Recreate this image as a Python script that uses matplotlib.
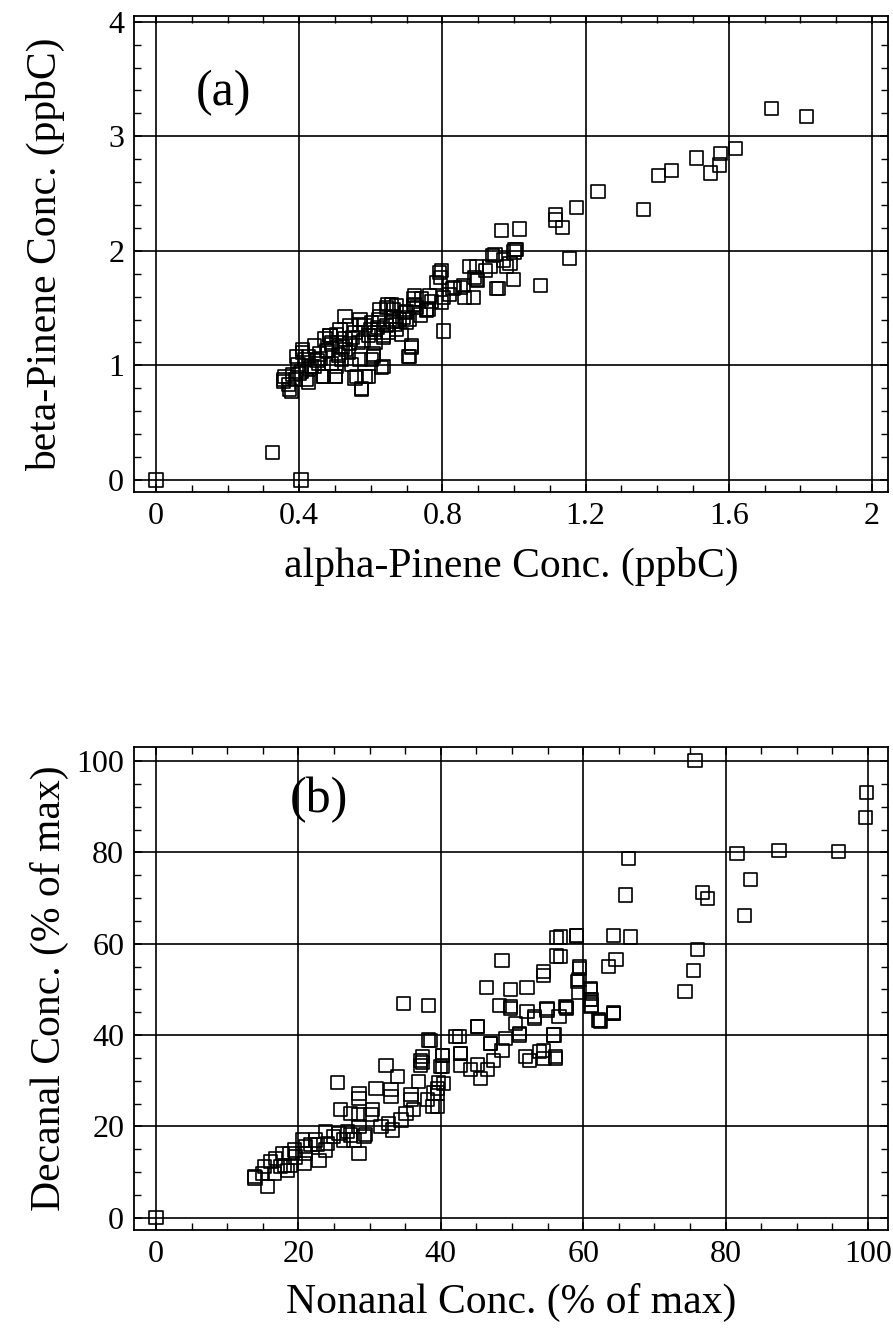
import matplotlib
matplotlib.use("Agg")
import matplotlib.pyplot as plt
from matplotlib.ticker import MultipleLocator, FixedLocator

plt.rcParams['font.family'] = ['Liberation Serif', 'DejaVu Serif']

# ---------------- Panel (a) data: alpha-Pinene vs beta-Pinene (ppbC) ----------------
alpha_pinene = [
    0.0, 0.326, 0.405, 0.528,
    1.72, 1.818, 1.619, 1.578, 1.575, 1.55, 1.51, 1.441, 1.404, 1.361, 1.235, 1.175,
    1.115, 1.115, 1.136, 1.155,
    0.966, 1.015, 1.074, 1.007, 1.0, 0.947, 0.952, 0.998, 0.989, 0.98, 0.933, 0.896,
    0.891, 0.898, 0.887, 0.863, 0.85, 0.83, 0.798, 0.795, 0.784, 0.803, 0.798, 0.765,
    0.742, 0.723, 0.719, 0.756, 0.70,
    0.803, 0.793, 1.003, 0.956, 0.895, 0.877, 0.94, 0.835, 0.719, 0.756, 0.658, 0.648,
    0.70, 0.714, 0.705, 0.635, 0.607, 0.635, 0.593, 0.575, 0.56, 0.50, 0.467, 0.425,
    0.379, 0.356, 0.41, 0.444, 0.486, 0.514, 0.57, 0.626, 0.663, 0.69, 0.728,
    0.356, 0.37, 0.374, 0.36, 0.383, 0.407, 0.421, 0.416, 0.41, 0.435, 0.453, 0.458,
    0.477, 0.467, 0.50, 0.486, 0.49, 0.505, 0.514, 0.528, 0.537, 0.519, 0.556, 0.565,
    0.584, 0.593, 0.602, 0.621, 0.612, 0.607, 0.635, 0.644, 0.658, 0.672, 0.63, 0.556,
    0.584, 0.575, 0.696, 0.709, 0.714, 0.709, 0.686, 0.425, 0.444, 0.397, 0.393, 0.542,
    0.570, 0.626, 0.644, 0.672, 0.723, 0.761, 0.602, 0.491, 0.472, 0.547, 0.57, 0.505,
    0.46, 0.48, 0.52, 0.54, 0.55, 0.58, 0.60, 0.62, 0.66, 0.68, 0.45, 0.43, 0.39, 0.40,
    0.51, 0.53, 0.49, 0.61, 0.65, 0.67, 0.74, 0.77, 0.82, 0.86, 0.92, 0.97,
]
beta_pinene = [
    0.0, 0.24, 0.0, 1.43,
    3.245, 3.17, 2.895, 2.85, 2.75, 2.68, 2.81, 2.70, 2.655, 2.36, 2.52, 2.38,
    2.315, 2.27, 2.205, 1.93,
    2.18, 2.19, 1.70, 2.01, 1.99, 1.97, 1.67, 1.75, 1.89, 1.86, 1.86, 1.86,
    1.77, 1.74, 1.59, 1.59, 1.68, 1.67, 1.83, 1.77, 1.725, 1.59, 1.55, 1.61,
    1.58, 1.61, 1.52, 1.49, 1.47,
    1.30, 1.81, 2.01, 1.67, 1.75, 1.86, 1.96, 1.68, 1.58, 1.48, 1.535, 1.53,
    1.375, 1.155, 1.08, 1.24, 1.08, 0.99, 0.905, 0.79, 0.905, 0.905, 0.905, 0.85,
    0.775, 0.86, 1.11, 1.17, 1.26, 1.315, 1.36, 1.43, 1.49, 1.42, 1.505,
    0.877, 0.83, 0.79, 0.90, 0.92, 0.95, 0.877, 1.05, 1.14, 0.99, 1.02, 1.10,
    1.125, 0.905, 0.905, 1.26, 1.20, 1.27, 1.17, 1.23, 1.11, 1.05, 1.29, 1.20,
    1.345, 1.26, 1.375, 1.40, 1.20, 1.10, 1.26, 1.345, 1.43, 1.315, 0.98, 0.89,
    0.905, 0.80, 1.46, 1.40, 1.17, 1.08, 1.27, 1.08, 0.99, 1.01, 1.08, 1.345,
    1.40, 1.49, 1.505, 1.52, 1.535, 1.49, 1.05, 1.02, 1.23, 1.01, 1.05, 0.99,
    1.06, 1.13, 1.16, 1.19, 1.24, 1.22, 1.31, 1.33, 1.38, 1.40, 1.04, 0.97, 0.88, 0.93,
    1.09, 1.14, 1.18, 1.29, 1.29, 1.36, 1.44, 1.56, 1.62, 1.70, 1.83, 1.92,
]

# ---------------- Panel (b) data: Nonanal vs Decanal (% of max) ----------------
nonanal = [
    0.0,
    75.7, 99.8, 99.6, 81.6, 87.5, 95.8, 83.5, 82.7, 66.3, 65.9, 76.8, 77.5, 59.1, 56.8,
    64.2, 66.6, 76.1, 75.5, 74.3, 64.6, 63.5, 59.5, 59.2, 61.0, 61.2, 61.1, 64.2, 62.3,
    57.7, 56.8,
    48.6, 56.2, 56.3, 59.1, 59.5, 54.4, 54.4, 34.8, 38.3, 46.4, 49.8, 52.1, 48.2, 49.8,
    52.1, 54.9, 57.7, 59.4, 59.4, 61.0, 61.0, 62.2, 64.3, 56.6, 53.1, 50.5, 45.1, 42.6,
    38.5, 51.0, 55.9, 47.0, 48.6, 42.8, 52.4, 54.4, 56.1, 37.4, 37.4, 40.2, 40.2, 42.8,
    25.5, 28.5, 28.5, 25.9, 27.3, 30.9, 32.3, 33.9, 37.2, 37.2, 38.3, 36.9, 39.5, 35.8,
    33.0, 33.0, 30.4, 30.2, 28.5, 28.5, 27.8, 28.5, 26.9, 25.7, 23.8, 24.1, 22.4, 22.7,
    22.9, 21.0, 21.0, 20.6, 19.4, 19.6, 18.7, 17.8, 16.8, 17.5, 16.1, 15.2, 15.0, 13.8,
    13.9, 15.7, 16.6, 18.5, 18.0, 18.9, 20.8, 21.7, 23.8, 24.9, 26.3, 27.3, 29.2, 29.4,
    31.6, 32.7, 34.4, 35.1, 36.2, 33.2, 35.8, 38.1, 39.0, 39.5, 39.7,
    38.8, 39.5, 40.4, 40.0, 40.2, 42.1, 42.8, 45.1, 44.2, 45.1, 45.6, 46.5, 47.4, 49.1,
    47.0, 51.0, 51.9, 53.8, 54.5, 56.1, 55.8, 53.1, 54.9, 57.5, 61.2, 62.4, 64.3, 49.8,
]
decanal = [
    0.0,
    100.1, 93.1, 87.7, 79.8, 80.5, 80.2, 74.1, 66.2, 78.6, 70.7, 71.2, 70.0, 61.9, 61.5,
    61.9, 61.5, 58.8, 54.1, 49.5, 56.5, 55.1, 54.6, 51.7, 50.0, 47.8, 46.2, 44.9, 43.2,
    45.9, 57.2,
    56.4, 57.3, 61.4, 61.7, 54.9, 53.9, 53.1, 47.0, 46.4, 50.5, 49.9, 50.5, 46.4, 45.9,
    45.1, 45.9, 46.1, 52.1, 49.3, 50.2, 47.7, 43.3, 44.8, 44.0, 44.0, 42.6, 41.8, 39.6,
    38.8, 40.0, 40.0, 38.2, 36.7, 36.0, 34.5, 36.7, 34.9, 35.3, 34.0, 35.6, 33.2, 33.3,
    29.6, 27.2, 26.1, 23.6, 22.9, 28.3, 33.4, 30.9, 34.5, 33.4, 38.9, 29.8, 24.3, 26.9,
    28.0, 26.5, 23.6, 22.6, 22.6, 19.9, 17.0, 14.1, 18.8, 18.5, 18.8, 16.3, 17.0, 16.0,
    12.6, 15.6, 14.1, 17.0, 14.8, 13.3, 14.1, 14.1, 13.0, 11.2, 12.3, 11.2, 9.7, 9.0,
    8.7, 6.8, 9.7, 10.4, 11.5, 11.5, 11.9, 16.0, 14.8, 17.7, 17.0, 18.1, 17.7, 18.3,
    19.9, 20.7, 21.4, 22.9, 23.6, 19.2, 25.8, 25.8, 27.3, 28.3, 29.6,
    24.3, 27.3, 29.4, 33.1, 35.6, 39.6, 36.0, 41.8, 32.4, 33.5, 30.5, 32.4, 34.5, 39.3,
    38.2, 40.4, 35.3, 36.4, 34.9, 35.3, 40.0, 43.7, 45.5, 46.2, 46.6, 43.0, 44.8, 46.2,
]

a_xticks = [0, 0.4, 0.8, 1.2, 1.6, 2.0]
a_xticklabels = ["0", "0.4", "0.8", "1.2", "1.6", "2"]
a_yticks = [0, 1, 2, 3, 4]
b_ticks = [0, 20, 40, 60, 80, 100]

fig = plt.figure(figsize=(8.93, 13.34), dpi=100)
ax1 = fig.add_axes([0.150, 0.6312, 0.8444, 0.3568])
ax2 = fig.add_axes([0.150, 0.0780, 0.8444, 0.3620])

def style(ax):
    for s in ax.spines.values():
        s.set_linewidth(1.3)
        s.set_color('black')
    ax.tick_params(which='both', direction='in', top=True, right=True,
                   colors='black', labelsize=23)
    ax.tick_params(which='major', length=6, width=1.1, pad=7)
    ax.tick_params(which='minor', length=5, width=1.0)
    ax.grid(True, which='major', color='black', linewidth=1.2)
    ax.set_axisbelow(True)

# Panel (a)
ax1.scatter(alpha_pinene, beta_pinene, marker='s', s=90, facecolors='none',
            edgecolors='black', linewidths=1.2, zorder=3)
ax1.set_xlim(-0.0615, 2.045)
ax1.set_ylim(-0.105, 4.05)
ax1.xaxis.set_major_locator(FixedLocator(a_xticks))
ax1.set_xticklabels(a_xticklabels)
ax1.yaxis.set_major_locator(FixedLocator(a_yticks))
ax1.xaxis.set_minor_locator(MultipleLocator(0.1))
ax1.yaxis.set_minor_locator(MultipleLocator(0.2))
style(ax1)
ax1.set_xlabel("alpha-Pinene Conc. (ppbC)", fontsize=30, labelpad=12)
ax1.set_ylabel("beta-Pinene Conc. (ppbC)", fontsize=30)
ax1.yaxis.set_label_coords(-0.092, 0.5)
ax1.text(0.19, 3.38, "(a)", fontsize=36, ha='center', va='center')

# Panel (b)
ax2.scatter(nonanal, decanal, marker='s', s=90, facecolors='none',
            edgecolors='black', linewidths=1.2, zorder=3)
ax2.set_xlim(-3.1, 102.8)
ax2.set_ylim(-2.7, 103.1)
ax2.xaxis.set_major_locator(FixedLocator(b_ticks))
ax2.yaxis.set_major_locator(FixedLocator(b_ticks))
ax2.xaxis.set_minor_locator(MultipleLocator(5))
ax2.yaxis.set_minor_locator(MultipleLocator(5))
style(ax2)
ax2.set_xlabel("Nonanal Conc. (% of max)", fontsize=30, labelpad=10)
ax2.set_ylabel("Decanal Conc. (% of max)", fontsize=30)
ax2.yaxis.set_label_coords(-0.086, 0.5)
ax2.text(22.9, 91.5, "(b)", fontsize=36, ha='center', va='center')

fig.savefig("out.png", dpi=100)
